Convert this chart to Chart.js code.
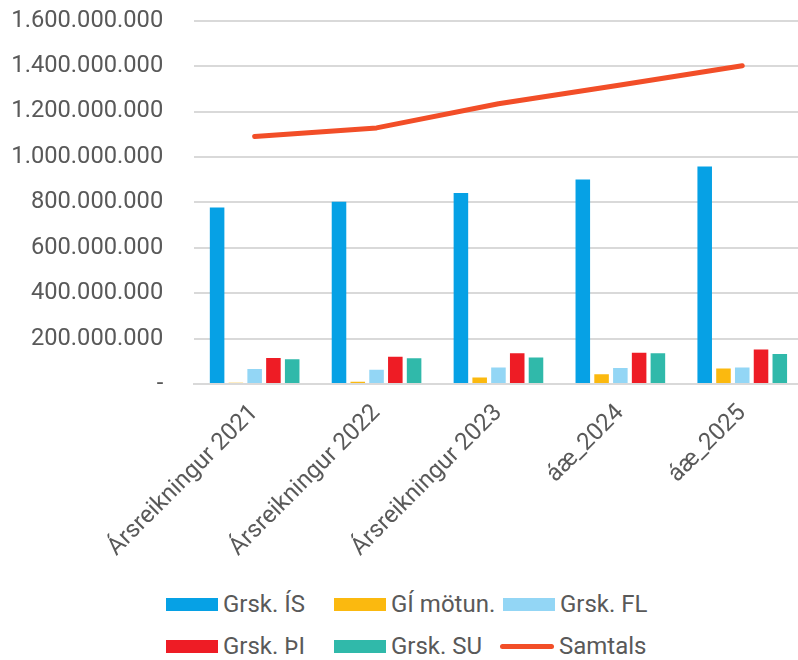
<!DOCTYPE html>
<html>
<head>
<meta charset="utf-8">
<script src="https://cdn.jsdelivr.net/npm/chart.js@4"></script>
<style>
  html, body { margin: 0; padding: 0; background: #fff; overflow: hidden; width: 798px; height: 660px; }
  #wrap { position: absolute; left: 0; top: -24px; width: 806px; height: 604px; }
  #legend { position: absolute; left: 0; top: 580px; width: 798px; height: 80px; font-family: Roboto, sans-serif; font-size: 24px; color: #595959; }
  .item { position: absolute; display: flex; align-items: center; height: 28px; white-space: nowrap; }
  .sw { width: 52px; height: 13px; margin-right: 5px; }
  .ln { width: 54px; height: 5px; border-radius: 3px; margin-right: 5px; }
</style>
</head>
<body>
<div id="wrap"><canvas id="c"></canvas></div>
<div id="legend"></div>
<script>
const categories = ['Ársreikningur 2021', 'Ársreikningur 2022', 'Ársreikningur 2023', 'áæ_2024', 'áæ_2025'];
const seriesNames = ['Grsk. ÍS', 'GÍ mötun.', 'Grsk. FL', 'Grsk. ÞI', 'Grsk. SU', 'Samtals'];
const grskIS   = [777000000, 803000000, 841000000, 901000000, 958000000];
const giMotun  = [6000000, 10000000, 29000000, 43000000, 68000000];
const grskFL   = [66000000, 63000000, 73000000, 70000000, 73000000];
const grskTHI  = [114000000, 120000000, 135000000, 138000000, 152000000];
const grskSU   = [109000000, 113000000, 117000000, 135000000, 132000000];
const samtals  = [1090000000, 1128000000, 1234000000, 1317000000, 1402000000];
const yTicks   = [0, 200000000, 400000000, 600000000, 800000000, 1000000000, 1200000000, 1400000000, 1600000000];

const colors = ['#06A1E5', '#FBB90F', '#93D6F5', '#EE1C25', '#30B9AA', '#F24E28'];
const FONT = 'Roboto, sans-serif';
const TXT = '#595959';

function fmt(v) {
  if (v === 0) return '-';
  return String(Math.round(v)).replace(/\B(?=(\d{3})+(?!\d))/g, '.');
}

const barValues = [grskIS, giMotun, grskFL, grskTHI, grskSU];
const datasets = barValues.map((vals, i) => ({
  type: 'bar',
  label: seriesNames[i],
  data: vals,
  backgroundColor: colors[i],
  borderWidth: 0,
  categoryPercentage: 0.77,
  barPercentage: 0.775,
  order: 2
}));
datasets.push({
  type: 'line',
  label: seriesNames[5],
  data: samtals,
  borderColor: colors[5],
  backgroundColor: colors[5],
  borderWidth: 5,
  borderCapStyle: 'round',
  borderJoinStyle: 'round',
  pointRadius: 0,
  tension: 0,
  fill: false,
  order: 1
});

new Chart(document.getElementById('c'), {
  data: { labels: categories, datasets },
  options: {
    responsive: true,
    maintainAspectRatio: false,
    animation: false,
    layout: { padding: { top: 0, right: 2.8, bottom: 0, left: 0 } },
    plugins: { legend: { display: false }, tooltip: { enabled: false } },
    scales: {
      x: {
        grid: { display: false, drawTicks: false },
        border: { display: true, color: '#d9d9d9', width: 2 },
        ticks: { color: TXT, font: { family: FONT, size: 24 }, maxRotation: 45, minRotation: 45, padding: 15, autoSkip: false },
        afterFit: s => { s.height = 196; }
      },
      y: {
        min: 0, max: 1600000000,
        afterBuildTicks: s => { s.ticks = yTicks.map(v => ({ value: v })); },
        grid: { color: '#d9d9d9', lineWidth: 2, drawTicks: false },
        border: { display: false },
        ticks: { color: TXT, font: { family: FONT, size: 23.7 }, padding: 30.5, callback: v => fmt(v) },
        afterFit: s => { s.width = 193.7; }
      }
    }
  }
});

// Legend laid out in columns like the reference
const legendPos = [
  [166, 10], [334, 10], [503, 10],
  [166, 52], [334, 52], [503, 52]
];
const lg = document.getElementById('legend');
seriesNames.forEach((name, i) => {
  const it = document.createElement('div');
  it.className = 'item';
  it.style.left = (legendPos[i][0] - (i === 5 ? 3 : 0)) + 'px';
  it.style.top = legendPos[i][1] + 'px';
  const sw = document.createElement('span');
  sw.className = i === 5 ? 'ln' : 'sw';
  sw.style.background = colors[i];
  const tx = document.createElement('span');
  tx.textContent = name;
  it.appendChild(sw); it.appendChild(tx);
  lg.appendChild(it);
});
</script>
</body>
</html>
